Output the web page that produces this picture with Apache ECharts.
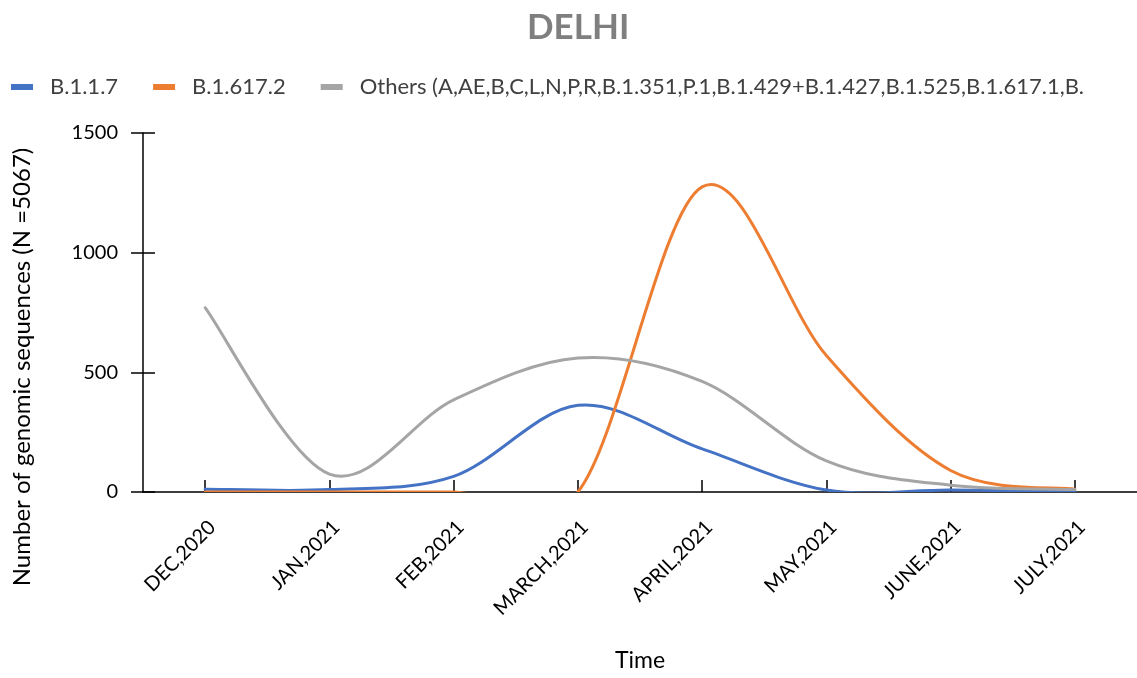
<!DOCTYPE html>
<html>
<head>
<meta charset="utf-8">
<script src="https://cdn.jsdelivr.net/npm/echarts@6/dist/echarts.min.js"></script>
<style>html,body{margin:0;padding:0;background:#fff}#c{width:1137px;height:678px}</style>
</head>
<body>
<div id="c"></div>
<script>
var categories = ['DEC,2020','JAN,2021','FEB,2021','MARCH,2021','APRIL,2021','MAY,2021','JUNE,2021','JULY,2021'];
var seriesNames = ['B.1.1.7','B.1.617.2','Others (A,AE,B,C,L,N,P,R,B.1.351,P.1,B.1.429+B.1.427,B.1.525,B.1.617.1,B.'];
var b117 = [12, 10, 65, 362, 180, 8, 8, 3];
var b16172 = [0, 0, 0, 0, 1275, 570, 90, 12];
var others = [770, 75, 385, 560, 462, 130, 28, 10];
var yTicks = [0, 500, 1000, 1500];

var FONT = 'Lato';
var chart = echarts.init(document.getElementById('c'));

// Excel-like smoothed line (Catmull-Rom Bezier) drawn through the axis scales
function splineRender(params, api) {
  if (params.dataIndexInside !== 0) return null;
  var n = params.dataInsideLength;
  var pts = [];
  for (var i = 0; i < n; i++) {
    pts.push(api.coord([api.value(0, i), api.value(1, i)]));
  }
  var d = 'M' + pts[0][0] + ' ' + pts[0][1];
  for (var k = 0; k < n - 1; k++) {
    var p0 = pts[k - 1] || pts[k], p1 = pts[k], p2 = pts[k + 1], p3 = pts[k + 2] || pts[k + 1];
    var c1x = p1[0] + (p2[0] - p0[0]) / 6, c1y = p1[1] + (p2[1] - p0[1]) / 6;
    var c2x = p2[0] - (p3[0] - p1[0]) / 6, c2y = p2[1] - (p3[1] - p1[1]) / 6;
    d += ' C' + c1x + ' ' + c1y + ' ' + c2x + ' ' + c2y + ' ' + p2[0] + ' ' + p2[1];
  }
  return {
    type: 'path',
    shape: {pathData: d},
    style: {stroke: api.visual('color'), fill: null, lineWidth: 3, lineCap: 'round', lineJoin: 'round'}
  };
}
function splineSeries(name, values, color) {
  return {
    name: name, type: 'custom', renderItem: splineRender, clip: true,
    itemStyle: {color: color},
    encode: {x: 0, y: 1},
    data: values.map(function (v, i) { return [categories[i], v]; })
  };
}
var tickStyle = {color: '#000', width: 1.5};
chart.setOption({
  animation: false,
  backgroundColor: '#fff',
  title: {
    text: 'DELHI', left: 522, top: 5,
    textStyle: {fontFamily: FONT, fontSize: 35, fontWeight: 'bold', color: '#7f7f7f'}
  },
  legend: {
    left: 6, top: 71, icon: 'rect', itemWidth: 22, itemHeight: 6, itemGap: 35,
    textStyle: {fontFamily: FONT, fontSize: 22, color: '#404040', padding: [0, 0, 0, 12]},
    data: seriesNames.map(function (s) { return {name: s, icon: 'rect'}; })
  },
  grid: {left: 143, right: 0, top: 133, bottom: 186, containLabel: false, outerBoundsMode: 'none'},
  xAxis: [{
    type: 'category', data: categories, boundaryGap: true,
    axisLine: {lineStyle: tickStyle},
    axisTick: {alignWithLabel: true, length: 12, lineStyle: tickStyle},
    axisLabel: {rotate: 45, margin: 25, verticalAlign: 'top', fontFamily: FONT, fontSize: 20, color: '#000', interval: 0},
    name: 'Time', nameLocation: 'middle', nameGap: 157,
    nameTextStyle: {fontFamily: FONT, fontSize: 23, color: '#000'}
  }, {
    type: 'category', data: categories, boundaryGap: true, position: 'bottom', offset: 0,
    axisLine: {show: true, lineStyle: {color: '#000', width: 1.5, opacity: 0}},
    axisTick: {show: true, alignWithLabel: true, inside: true, length: 12, lineStyle: tickStyle},
    axisLabel: {show: false}
  }],
  yAxis: [{
    type: 'value', min: yTicks[0], max: yTicks[yTicks.length - 1], interval: 500,
    axisLine: {show: true, lineStyle: tickStyle},
    axisTick: {show: true, length: 12, lineStyle: tickStyle},
    axisLabel: {margin: 25, fontFamily: FONT, fontSize: 20, color: '#000', formatter: function (v) { return String(v); }},
    splitLine: {show: false}
  }, {
    type: 'value', min: yTicks[0], max: yTicks[yTicks.length - 1], interval: 500, position: 'left', offset: 0,
    axisLine: {show: true, lineStyle: {color: '#000', width: 1.5, opacity: 0}},
    axisTick: {show: true, inside: true, length: 12, lineStyle: tickStyle},
    axisLabel: {show: false}, splitLine: {show: false}
  }],
  graphic: [{
    type: 'text', x: 22, y: 367, rotation: Math.PI / 2,
    style: {text: 'Number of genomic sequences (N =5067)', fontFamily: FONT, fontSize: 24, fill: '#000',
      align: 'center', verticalAlign: 'middle'}
  }],
  series: [
    splineSeries(seriesNames[0], b117, '#4472C4'),
    splineSeries(seriesNames[1], b16172, '#ED7D31'),
    splineSeries(seriesNames[2], others, '#A5A5A5')
  ]
});
</script>
</body>
</html>
